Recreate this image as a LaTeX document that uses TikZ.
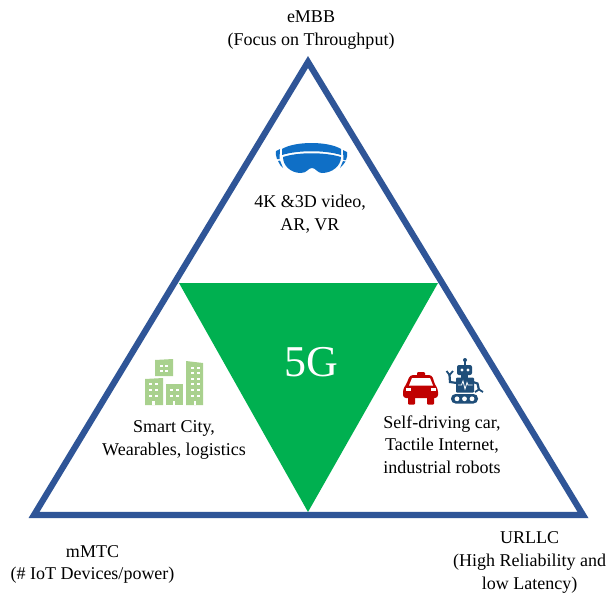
\documentclass[tikz,border=0pt]{standalone}
\usepackage{fontspec}
\setmainfont{Liberation Serif}
\definecolor{frameblue}{HTML}{2F5597}
\definecolor{fivegreen}{HTML}{00B050}
\definecolor{gogglesblue}{HTML}{0F6FC6}
\definecolor{citygreen}{HTML}{A9D18E}
\definecolor{carred}{HTML}{C00000}
\definecolor{robotblue}{HTML}{1F4E79}
\tikzset{
  lbl/.style={align=center,font=\fontsize{18}{22.6}\selectfont,text=black,inner sep=0pt},
  bldg/.style={fill=citygreen,draw=none},
  win/.style={fill=white,draw=none},
}
\begin{document}
\begin{tikzpicture}[x=1pt,y=-1pt]
\useasboundingbox (0,0) rectangle (610,592);
\fill[white] (0,0) rectangle (610,592);
\coordinate (apex) at (308,62);
\coordinate (left) at (34,515);
\coordinate (right) at (583,515);
\coordinate (gl) at (179,283);
\coordinate (gr) at (438,283);
\coordinate (gb) at (308,512);
\fill[fivegreen] (gl) -- (gr) -- (gb) -- cycle;
\draw[frameblue,line width=6.2pt,miter limit=10] (apex) -- (right) -- (left) -- cycle;
% goggles
\begin{scope}[gogglesblue]
\fill (282,149) .. controls (295,141) and (328,141) .. (341,149) -- (341,155) .. controls (325,150) and (298,150) .. (282,155) -- cycle;
\fill (283,157) .. controls (298,152) and (325,152) .. (341,157) .. controls (341,166) and (332,173) .. (322,173) .. controls (317,173) and (316,168) .. (312,168) .. controls (308,168) and (307,173) .. (301,173) .. controls (291,173) and (283,166) .. (283,157) -- cycle;
\fill (276,151) -- (280,149) -- (279.5,159) -- (277,159) .. controls (276,156) and (275.5,154) .. (276,151) -- cycle;
\fill (278,161) -- (280,160.5) -- (283,168) .. controls (281,166) and (279,164) .. (278,161) -- cycle;
\fill (343,150) -- (347,152) .. controls (347.5,155) and (347,158) .. (346,160) -- (343.5,160) -- cycle;
\fill (343,161) -- (345.5,161.5) .. controls (344,164) and (342,166) .. (340,168) -- cycle;
\end{scope}
% city
\fill[bldg] (145,379) -- (163,378) -- (163,405) -- (145,405) -- cycle;
\fill[bldg] (155,360) -- (173,359) -- (173,376) -- (155,376) -- cycle;
\fill[bldg] (166,384) -- (183,384) -- (183,405) -- (166,405) -- cycle;
\fill[bldg] (186,361) -- (203,363) -- (203,405) -- (186,405) -- cycle;
\foreach \wx/\wy in {149/383,155/383,149/389,155/389,149/395,155/395,
  160/365,165/365,160/370,165/370,
  170/389,176/389,170/395,176/395,
  191/367,197/367,191/372,197/372,191/378,197/378,191/383,197/383,191/389,197/389,191/395,197/395}
  \fill[win] (\wx,\wy) rectangle ++(2.6,2.4);
\foreach \dx in {152.3,172.8,193.5}
  \fill[win] (\dx,405) -- ++(0,-4) -- ++(2.6,0) -- ++(0,4) -- cycle;
% car
\begin{scope}[carred]
\fill[rounded corners=1pt] (417,372) -- (425,372) -- (425,376) -- (417,376) -- cycle;
\fill[rounded corners=3pt] (410,375) -- (432,375) -- (435,385) -- (438,389) -- (438,398) -- (403,398) -- (403,389) -- (406,385) -- cycle;
\fill[rounded corners=1pt] (408,396) rectangle (415,404.5);
\fill[rounded corners=1pt] (427,396) rectangle (434,404.5);
\end{scope}
\fill[white] (412,378) -- (430,378) -- (433,385.5) -- (409,385.5) -- cycle;
\fill[white] (406,388) rectangle (411,391);
\fill[white] (431,388) rectangle (436,391);
% robot
\begin{scope}[robotblue]
\fill (465,360) circle (2);
\fill (464.2,360) rectangle (465.8,365.5);
\fill[rounded corners=2pt] (457,365) rectangle (472,375);
\fill (461,375) rectangle (468,378);
\fill[rounded corners=1pt] (456,377.5) rectangle (474,392.5);
\draw[line width=2.2pt] (457,383) -- (450,382) -- (449.5,375);
\draw[line width=1.8pt] (446.5,371) -- (449.5,375) -- (453,371);
\draw[line width=2.2pt] (473,382) -- (477.5,383.5) -- (479,390);
\draw[line width=1.8pt] (475,392) -- (479,389.5) -- (483,392);
\fill[rounded corners=4.5pt] (451,394) rectangle (478,403.5);
\end{scope}
\fill[white] (462,370) circle (1.7) (468,370) circle (1.7);
\fill[white] (457,398.8) circle (2.4) (464.5,398.8) circle (2.4) (472,398.8) circle (2.4);
\draw[white,line width=0.8pt] (458,385) -- (461.5,385) -- (463,381) -- (465,389) -- (467,382.5) -- (468,385) -- (472.5,385);
% labels
\node[lbl] (embb) at (311,30) {eMBB\\(Focus on Throughput)};
\node[lbl] (emtxt) at (310,214) {4K \&3D video,\\AR, VR};
\node[lbl] (city) at (174,440) {Smart City,\\Wearables, logistics};
\node[lbl] (urtxt) at (442,444.5) {Self-driving car,\\Tactile Internet,\\industrial robots};
\node[lbl] (mmtc) at (92.5,564.5) {mMTC\\(\# IoT Devices/power)};
\node[lbl] (urllc) at (529.5,562.5) {URLLC\\(High Reliability and\\low Latency)};
\node[align=center,inner sep=0pt,text=white,font=\fontsize{44}{50}\selectfont] (fiveg) at (311,362.5) {5G};
\end{tikzpicture}
\end{document}
